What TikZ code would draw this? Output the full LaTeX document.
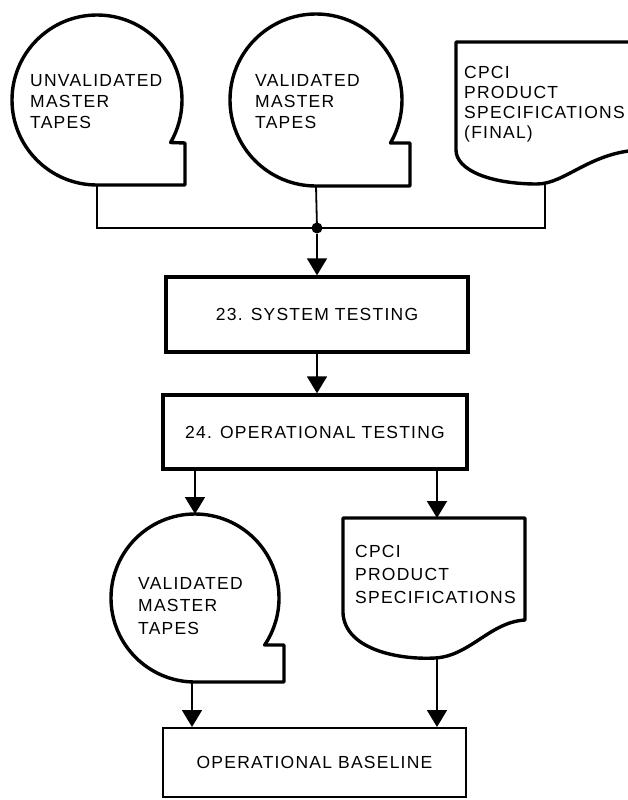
\documentclass[tikz,border=0pt]{standalone}
\usepackage{fontspec}
\setmainfont{Liberation Sans}[LetterSpace=7]
\usetikzlibrary{arrows.meta,calc}
\newcommand\stacktxt[2]{\fontsize{17.5}{#1}\selectfont\begin{tabular}[t]{@{}l@{}}#2\end{tabular}}
\begin{document}
\begin{tikzpicture}[x=1pt,y=-1pt,
  outline/.style={line width=3.4pt, line join=round},
  conn/.style={line width=1.8pt},
  arr/.style={conn,-{Triangle[width=20pt,length=17pt]}},
  procbox/.style={draw, line width=3.4pt, minimum width=302pt, minimum height=75pt, inner sep=0pt, font=\fontsize{17.5}{21}\selectfont},
  lbl/.style={anchor=base west, inner sep=0pt}
]
\useasboundingbox (0,0) rectangle (628,800);
\clip (0,0) rectangle (628,800);

% tapes
\draw[outline] (97,185) arc[start angle=90,end angle=390,radius=85] -- (185,143) -- (185,185) -- cycle;
\draw[outline] (316,186) arc[start angle=90,end angle=390,radius=86] -- (410,143) -- (410,186) -- cycle;
\draw[outline] (195,682) arc[start angle=90,end angle=394,radius=84] -- (284,645) -- (284,682) -- cycle;

% documents
\draw[outline] (456,150) -- (456,42) -- (640,42) -- (640,150)
  .. controls (590,152) and (565,184) .. (537,184)
  .. controls (490,184) and (456,170) .. (456,150);
\draw[outline] (343,613) -- (343,518) -- (525,518) -- (525,620)
  .. controls (490,622) and (470,656) .. (435,658)
  .. controls (400,660) and (345,650) .. (343,613);

\coordinate (t1out) at (97,185);
\coordinate (t2out) at (316,186);
\coordinate (d1out) at (545,183);
\coordinate (j) at (317,228);
\coordinate (t3top) at (195,514);
\coordinate (t3out) at (192,682);
\coordinate (d2top) at (437,518);
\coordinate (d2out) at (437,658);

% labels
\node[lbl] (t1txt) at (30,86) {\stacktxt{21}{UNVALIDATED\\MASTER\\TAPES}};
\node[lbl] (t2txt) at (255,86) {\stacktxt{21}{VALIDATED\\MASTER\\TAPES}};
\node[lbl] (d1txt) at (464,78) {\stacktxt{20}{CPCI\\PRODUCT\\SPECIFICATIONS\\(FINAL)}};
\node[lbl] (t3txt) at (138,589) {\stacktxt{22.5}{VALIDATED\\MASTER\\TAPES}};
\node[lbl] (d2txt) at (355,557) {\stacktxt{23}{CPCI\\PRODUCT\\SPECIFICATIONS}};

% process boxes
\node[procbox] (b23) at (317,314.5) {23. SYSTEM TESTING};
\node[procbox, minimum width=304pt, minimum height=74pt] (b24) at (315,432) {24. OPERATIONAL TESTING};
\node[procbox, line width=2pt, minimum width=303pt, minimum height=69pt] (bbase) at (314.5,762.5) {OPERATIONAL BASELINE};

% connectors
\draw[conn] (t1out) |- (j) -| (d1out);
\draw[conn] (t2out) -- (j);
\node[circle, fill, inner sep=0pt, minimum size=11pt] (jd) at (j) {};
\draw[arr] (jd) -- (jd |- b23.north);
\draw[arr] (b23.south) -- (b23.south |- b24.north);
\draw[arr] (b24.south -| t3top) -- (t3top);
\draw[arr] (b24.south -| d2top) -- (d2top);
\draw[arr] (t3out) -- (t3out |- bbase.north);
\draw[arr] (d2out) -- (d2out |- bbase.north);
\end{tikzpicture}
\end{document}
